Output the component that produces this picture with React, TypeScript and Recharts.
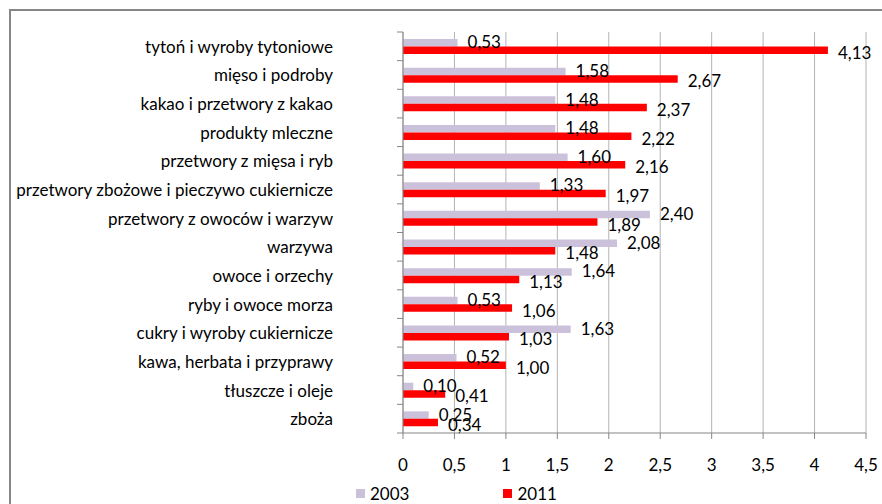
import { BarChart, Bar, XAxis, YAxis, CartesianGrid, Legend, LabelList } from 'recharts';

const categories = [
  'tytoń i wyroby tytoniowe',
  'mięso i podroby',
  'kakao i przetwory z kakao',
  'produkty mleczne',
  'przetwory z mięsa i ryb',
  'przetwory zbożowe i pieczywo cukiernicze',
  'przetwory z owoców i warzyw',
  'warzywa',
  'owoce i orzechy',
  'ryby i owoce morza',
  'cukry i wyroby cukiernicze',
  'kawa, herbata i przyprawy',
  'tłuszcze i oleje',
  'zboża',
];

const values2003 = [0.53, 1.58, 1.48, 1.48, 1.6, 1.33, 2.4, 2.08, 1.64, 0.53, 1.63, 0.52, 0.1, 0.25];
const values2011 = [4.13, 2.67, 2.37, 2.22, 2.16, 1.97, 1.89, 1.48, 1.13, 1.06, 1.03, 1.0, 0.41, 0.34];

const xTicks = [0, 0.5, 1, 1.5, 2, 2.5, 3, 3.5, 4, 4.5];

const data = categories.map((name, i) => ({ name, v2003: values2003[i], v2011: values2011[i] }));

const FONT = 'Lato, "Open Sans", sans-serif';
const LAVENDER = '#CCC1DA';
const RED = '#FF0000';
const AXIS = '#868686';
const GRID = '#B4B4B4';

const comma = (v: number) => String(v).replace('.', ',');

const CategoryTick = (props: any) => {
  const { x, y, payload, index, visibleTicksCount } = props;
  const half = payload?.offset || 14.3;
  return (
    <g>
      <line x1={x - 6} x2={x} y1={y - half} y2={y - half} stroke={AXIS} />
      {index === visibleTicksCount - 1 && (
        <line x1={x - 6} x2={x} y1={y + half} y2={y + half} stroke={AXIS} />
      )}
      <text x={x - 70} y={y} textAnchor="end" dominantBaseline="central" fontSize={17} fontFamily={FONT} fill="#000">
        {payload.value}
      </text>
    </g>
  );
};

const makeLabel = (dy: number) => (props: any) => {
  const { x, y, width, height, value } = props;
  return (
    <text
      x={x + width + 10}
      y={y + height / 2 + dy}
      dominantBaseline="central"
      fontSize={17}
      fontFamily={FONT}
      fill="#000"
    >
      {Number(value).toFixed(2).replace('.', ',')}
    </text>
  );
};

const LegendContent = (props: any) => {
  const items = props.payload || [];
  return (
    <div style={{ display: 'flex', height: 21, alignItems: 'center', fontFamily: FONT, fontSize: 17, color: '#000' }}>
      {items.map((it: any, i: number) => (
        <div key={i} style={{ display: 'flex', alignItems: 'center', marginRight: 94 }}>
          <span style={{ width: 9, height: 9, background: it.color, marginRight: 5, display: 'inline-block' }} />
          <span>{it.value}</span>
        </div>
      ))}
    </div>
  );
};

export default function App() {
  return (
    <div
      style={{
        position: 'absolute',
        left: 9,
        top: 9,
        width: 873,
        height: 495,
        borderTop: `2px solid ${AXIS}`,
        borderLeft: `2px solid ${AXIS}`,
      }}
    >
      <BarChart
        width={871}
        height={493}
        data={data}
        layout="vertical"
        margin={{ top: 21, right: 16, bottom: 0, left: 0 }}
        barSize={7.5}
        barGap={0}
      >
        <CartesianGrid horizontal={false} stroke={GRID} />
        <XAxis
          type="number"
          domain={[0, 4.5]}
          ticks={xTicks}
          tickFormatter={comma}
          stroke={AXIS}
          tickSize={6}
          tickMargin={20}
          height={50}
          interval={0}
          tick={{ fontSize: 17, fontFamily: FONT, fill: '#000' }}
        />
        <YAxis
          type="category"
          dataKey="name"
          width={392}
          stroke={AXIS}
          tickLine={false}
          tickSize={0}
          tickMargin={0}
          interval={0}
          tick={<CategoryTick />}
        />
        <Legend
          verticalAlign="bottom"
          align="left"
          content={<LegendContent />}
          wrapperStyle={{ left: 345, width: 300 }}
        />
        <Bar dataKey="v2003" name="2003" fill={LAVENDER} isAnimationActive={false}>
          <LabelList dataKey="v2003" content={makeLabel(-1)} />
        </Bar>
        <Bar dataKey="v2011" name="2011" fill={RED} isAnimationActive={false}>
          <LabelList dataKey="v2011" content={makeLabel(2)} />
        </Bar>
      </BarChart>
    </div>
  );
}
